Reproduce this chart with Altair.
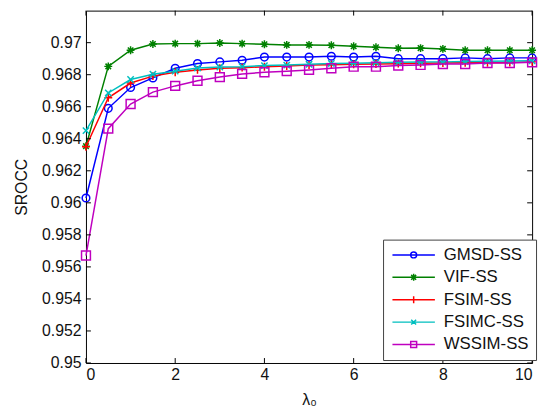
import altair as alt
import pandas as pd

# ---- data ----
LAMBDA = [0, 0.5, 1, 1.5, 2, 2.5, 3, 3.5, 4, 4.5, 5, 5.5, 6, 6.5, 7, 7.5, 8, 8.5, 9, 9.5, 10]
GMSD = [0.9603, 0.9659, 0.9672, 0.9678, 0.9684, 0.9687, 0.9688, 0.9689, 0.9691, 0.9691,
        0.9691, 0.96915, 0.9691, 0.96915, 0.9690, 0.9690, 0.9690, 0.96905, 0.9690, 0.96905, 0.96905]
VIF = [0.96354, 0.96852, 0.96953, 0.96992, 0.96994, 0.96994, 0.96998, 0.96994, 0.9699, 0.96986,
       0.96986, 0.96984, 0.96978, 0.96971, 0.96965, 0.96966, 0.96961, 0.96953, 0.96953, 0.96953, 0.96953]
FSIM = [0.9635, 0.96656, 0.96748, 0.96791, 0.96815, 0.9683, 0.9684, 0.96844, 0.9685, 0.96854,
        0.9686, 0.96862, 0.96865, 0.96867, 0.96869, 0.96871, 0.96873, 0.96874, 0.96875, 0.96876, 0.9688]
FSIMC = [0.96451, 0.96686, 0.9677, 0.96803, 0.96822, 0.96842, 0.96848, 0.9685, 0.96857, 0.9686,
         0.96865, 0.9687, 0.96872, 0.96875, 0.96877, 0.96879, 0.9688, 0.96882, 0.96884, 0.96885, 0.96887]
WSSIM = [0.95671, 0.96463, 0.96617, 0.96691, 0.9673, 0.96762, 0.96785, 0.96805, 0.96815, 0.96822,
         0.9683, 0.9684, 0.9685, 0.9685, 0.96857, 0.96861, 0.96867, 0.96867, 0.96873, 0.96873, 0.96877]

SERIES = ["GMSD-SS", "VIF-SS", "FSIM-SS", "FSIMC-SS", "WSSIM-SS"]
VALUES = [GMSD, VIF, FSIM, FSIMC, WSSIM]
COLORS = ["#0000ff", "#008000", "#ff0000", "#00bfbf", "#bf00bf"]

X_TICKS = [0, 2, 4, 6, 8, 10]
Y_TICKS = [0.95, 0.952, 0.954, 0.956, 0.958, 0.96, 0.962, 0.964, 0.966, 0.968, 0.97]

# marker shapes (styles)
MARKERS = [
    ("circle", 60),
    ("M-1,0H1M0,-1V1M-0.7,-0.7L0.7,0.7M-0.7,0.7L0.7,-0.7", 64),
    ("M-1,0H1M0,-1V1", 64),
    ("M-0.8,-0.8L0.8,0.8M-0.8,0.8L0.8,-0.8", 64),
    ("square", 81),
]
LEGEND_PATHS = [
    "M-4.3,0H4.3M-0.6,0A0.6,0.6,0,1,1,0.6,0A0.6,0.6,0,1,1,-0.6,0",
    "M-4.3,0H4.3M0,-0.7V0.7M-0.5,-0.5L0.5,0.5M-0.5,0.5L0.5,-0.5",
    "M-4.3,0H4.3M0,-0.7V0.7",
    "M-4.3,0H4.3M-0.5,-0.5L0.5,0.5M-0.5,0.5L0.5,-0.5",
    "M-4.3,0H4.3M-0.6,-0.6H0.6V0.6H-0.6Z",
]

rows = []
for s, vals in zip(SERIES, VALUES):
    for x, v in zip(LAMBDA, vals):
        rows.append({"lam": x, "srocc": v, "series": s})
df = pd.DataFrame(rows)

W, H = 452, 357
FONT = "Liberation Sans"

xs = alt.Scale(domain=[0, 10], nice=False)
ys = alt.Scale(domain=[0.95, 0.972], nice=False, zero=False)

x_axis = alt.Axis(values=X_TICKS, ticks=False, tickSize=0, domain=False, grid=False,
                  labelPadding=4, labelFontSize=16, titleFontSize=16, labelOverlap=False,
                  titlePadding=9, titleFontWeight="normal")
y_axis = alt.Axis(values=Y_TICKS, format="~g", ticks=False, tickSize=0, domain=False,
                  grid=False, labelPadding=5, labelFontSize=16, titleFontSize=16,
                  labelOverlap=False, titlePadding=12, titleFontWeight="normal")


def X(field):
    return alt.X(field, scale=xs, title="λ₀", axis=x_axis)


def Y(field):
    return alt.Y(field, scale=ys, title="SROCC", axis=y_axis)


base = alt.Chart(df)

# invisible layer carrying the legend (line + marker symbols)
legend_layer = base.mark_point(filled=False, opacity=0).encode(
    x=X("lam:Q"), y=Y("srocc:Q"),
    color=alt.Color("series:N", scale=alt.Scale(domain=SERIES, range=COLORS), title=None),
    shape=alt.Shape("series:N", scale=alt.Scale(domain=SERIES, range=LEGEND_PATHS), title=None),
)
layers = [legend_layer]
for s, col, (shape, size) in zip(SERIES, COLORS, MARKERS):
    sub = base.transform_filter(alt.datum.series == s)
    layers.append(sub.mark_line(strokeWidth=1.5, color=col).encode(x=X("lam:Q"), y=Y("srocc:Q")))
    layers.append(sub.mark_point(shape=shape, size=size, filled=False, strokeWidth=1.5,
                                 opacity=1, color=col).encode(x=X("lam:Q"), y=Y("srocc:Q")))

# inward tick marks
xt = alt.Chart(pd.DataFrame({"t": X_TICKS}))
yt = alt.Chart(pd.DataFrame({"t": Y_TICKS}))
layers.append(xt.mark_rule(color="black").encode(x=X("t:Q"), y=alt.value(H), y2=alt.value(H - 5)))
layers.append(xt.mark_rule(color="black").encode(x=X("t:Q"), y=alt.value(0), y2=alt.value(5)))
layers.append(yt.mark_rule(color="black").encode(y=Y("t:Q"), x=alt.value(0), x2=alt.value(5)))
layers.append(yt.mark_rule(color="black").encode(y=Y("t:Q"), x=alt.value(W), x2=alt.value(W - 5)))

chart = alt.layer(*layers).properties(
    width=W, height=H,
    autosize=alt.AutoSizeParams(type="none"),
    padding={"left": 79, "top": 0, "right": 8, "bottom": 48},
).configure_view(stroke="black", strokeWidth=1).configure_axis(
    labelFont=FONT, titleFont=FONT, labelColor="#111111", titleColor="#111111",
    labelOverlap=False,
).configure_legend(
    orient="none", legendX=301, legendY=232,
    labelFont=FONT, labelFontSize=17, labelColor="#111111",
    symbolSize=100, symbolStrokeWidth=1.5, symbolOpacity=1, symbolOffset=15.5,
    labelOffset=22, padding=7, rowPadding=4.7,
    strokeColor="#404040", fillColor="white", cornerRadius=0,
)

chart.save("out.html", embed_options={"renderer": "svg", "actions": False})
